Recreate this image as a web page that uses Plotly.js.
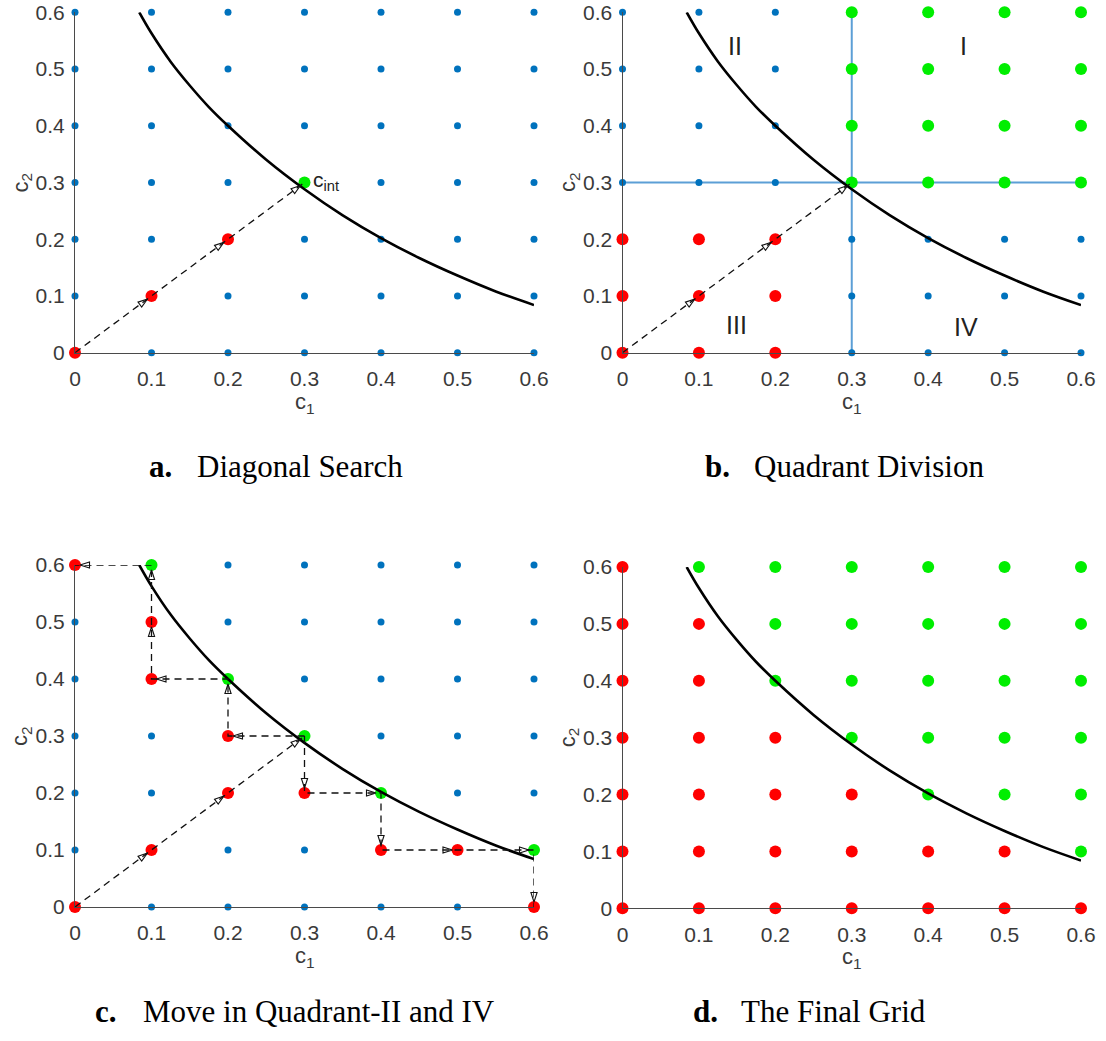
<!DOCTYPE html>
<html><head><meta charset="utf-8">
<script src="https://cdn.plot.ly/plotly-3.0.1.min.js"></script>
<style>html,body{margin:0;padding:0;background:#fff}#chart{width:1106px;height:1041px}</style>
</head><body><div id="chart"></div>
<script>
// ---------- data ----------
const gridVals = [0, 0.1, 0.2, 0.3, 0.4, 0.5, 0.6];
const tickLabels = ['0', '0.1', '0.2', '0.3', '0.4', '0.5', '0.6'];

// boundary curve
const curveX = [0.084, 0.10, 0.125, 0.15, 0.175, 0.20, 0.25, 0.30, 0.35, 0.40, 0.45, 0.50, 0.55, 0.60];
const curveY = [0.600, 0.563, 0.513, 0.471, 0.433, 0.400, 0.340, 0.288, 0.242, 0.202, 0.167, 0.136, 0.108, 0.084];

// search paths (arrows)
const diagPathX = [0, 0.1, 0.2, 0.3];
const diagPathY = [0, 0.1, 0.2, 0.3];
const quadIIPathX = [0.3, 0.2, 0.2, 0.1, 0.1, 0.1, 0];
const quadIIPathY = [0.3, 0.3, 0.4, 0.4, 0.5, 0.6, 0.6];
const quadIVPathX = [0.3, 0.3, 0.4, 0.4, 0.5, 0.6, 0.6];
const quadIVPathY = [0.3, 0.2, 0.2, 0.1, 0.1, 0.1, 0];

// panel a
const aRedX = [0, 0.1, 0.2];
const aRedY = [0, 0.1, 0.2];
const aGreenX = [0.3];
const aGreenY = [0.3];

// panel b
const bRedX = [0, 0.1, 0.2, 0, 0.1, 0.2, 0, 0.1, 0.2];
const bRedY = [0, 0, 0, 0.1, 0.1, 0.1, 0.2, 0.2, 0.2];
const bGreenX = [0.3, 0.4, 0.5, 0.6, 0.3, 0.4, 0.5, 0.6, 0.3, 0.4, 0.5, 0.6, 0.3, 0.4, 0.5, 0.6];
const bGreenY = [0.3, 0.3, 0.3, 0.3, 0.4, 0.4, 0.4, 0.4, 0.5, 0.5, 0.5, 0.5, 0.6, 0.6, 0.6, 0.6];
const bDividerX = 0.3;
const bDividerY = 0.3;
const quadrantNames = ['I', 'II', 'III', 'IV'];
const quadrantLabelX = [0.446, 0.147, 0.149, 0.450];
const quadrantLabelY = [0.540, 0.540, 0.049, 0.046];

// panel c
const cRedX = [0, 0.1, 0.2, 0.2, 0.1, 0.1, 0, 0.3, 0.4, 0.5, 0.6];
const cRedY = [0, 0.1, 0.2, 0.3, 0.4, 0.5, 0.6, 0.2, 0.1, 0.1, 0];
const cGreenX = [0.3, 0.2, 0.1, 0.4, 0.6];
const cGreenY = [0.3, 0.4, 0.6, 0.2, 0.1];

// panel d: highest red c2 in each c1 column (above it: green)
const dColumnX = [0, 0.1, 0.2, 0.3, 0.4, 0.5, 0.6];
const dRedTop  = [0.6, 0.5, 0.3, 0.2, 0.1, 0.1, 0];

const captionsBold = ['a.', 'b.', 'c.', 'd.'];
const captionsText = ['Diagonal Search', 'Quadrant Division', 'Move in Quadrant-II and IV', 'The Final Grid'];

// ---------- helpers ----------
const W = 1106, H = 1041;
const BLUE = '#0072BD', RED = '#ff0000', GREEN = '#00ee00';
const eq = (a, b) => Math.abs(a - b) < 1e-9;

function blueFor(rx, ry, gx, gy) {
  const X = [], Y = [];
  gridVals.forEach(x => gridVals.forEach(y => {
    const inR = rx.some((v, i) => eq(v, x) && eq(ry[i], y));
    const inG = gx.some((v, i) => eq(v, x) && eq(gy[i], y));
    if (!inR && !inG) { X.push(x); Y.push(y); }
  }));
  return [X, Y];
}

// d grid
const dRedX = [], dRedY = [], dGreenX = [], dGreenY = [];
dColumnX.forEach((x, i) => gridVals.forEach(y => {
  if (y <= dRedTop[i] + 1e-9) { dRedX.push(x); dRedY.push(y); }
  else { dGreenX.push(x); dGreenY.push(y); }
}));

const panels = [
  {x0: 75, x1: 534, y0: 12.3, y1: 352.7, red: [aRedX, aRedY], green: [aGreenX, aGreenY], paths: [[diagPathX, diagPathY]]},
  {x0: 622.5, x1: 1081, y0: 12.3, y1: 352.7, red: [bRedX, bRedY], green: [bGreenX, bGreenY], paths: [[diagPathX, diagPathY]], quad: true},
  {x0: 75, x1: 534, y0: 565, y1: 907, red: [cRedX, cRedY], green: [cGreenX, cGreenY], paths: [[diagPathX, diagPathY], [quadIIPathX, quadIIPathY], [quadIVPathX, quadIVPathY]]},
  {x0: 622.5, x1: 1081, y0: 567, y1: 908.3, red: [dRedX, dRedY], green: [dGreenX, dGreenY], paths: []}
];

const SANS = 'Liberation Sans, Arial, sans-serif';
const tickFont = {family: SANS, size: 21, color: '#3a3a3a'};
const layout = {
  width: W, height: H, margin: {l: 0, r: 0, t: 0, b: 0},
  showlegend: false, paper_bgcolor: '#ffffff', plot_bgcolor: 'rgba(0,0,0,0)',
  font: {family: SANS, color: '#3a3a3a'},
  annotations: []
};
const traces = [];

panels.forEach((p, i) => {
  const s = i === 0 ? '' : String(i + 1);
  const xa = 'x' + s, ya = 'y' + s;
  const common = {range: [0, 0.6], tickmode: 'array', tickvals: gridVals, ticktext: tickLabels,
    showline: true, linecolor: '#4a4a4a', linewidth: 1, showgrid: false, zeroline: false,
    ticks: '', tickfont: tickFont, fixedrange: true};
  layout['xaxis' + s] = Object.assign({}, common, {domain: [p.x0 / W, p.x1 / W], anchor: ya, ticklabelstandoff: 7});
  layout['yaxis' + s] = Object.assign({}, common, {domain: [1 - p.y1 / H, 1 - p.y0 / H], anchor: xa, ticklabelstandoff: 5});

  if (p.quad) {
    traces.push({x: [0, 0.6], y: [bDividerY, bDividerY], xaxis: xa, yaxis: ya, mode: 'lines',
      line: {color: '#5c9fd6', width: 2}, cliponaxis: false});
    traces.push({x: [bDividerX, bDividerX], y: [0, 0.6], xaxis: xa, yaxis: ya, mode: 'lines',
      line: {color: '#5c9fd6', width: 2}, cliponaxis: false});
  }
  const [bx, by] = blueFor(p.red[0], p.red[1], p.green[0], p.green[1]);
  traces.push({x: bx, y: by, xaxis: xa, yaxis: ya, mode: 'markers', marker: {color: BLUE, size: 7}, cliponaxis: false});
  traces.push({x: p.red[0], y: p.red[1], xaxis: xa, yaxis: ya, mode: 'markers', marker: {color: RED, size: 12}, cliponaxis: false});
  traces.push({x: p.green[0], y: p.green[1], xaxis: xa, yaxis: ya, mode: 'markers', marker: {color: GREEN, size: 12}, cliponaxis: false});
  traces.push({x: curveX, y: curveY, xaxis: xa, yaxis: ya, mode: 'lines', line: {color: '#000', width: 2.6, shape: 'spline', smoothing: 1}, cliponaxis: false});
  p.paths.forEach(([px_, py_]) => {
    traces.push({x: px_, y: py_, xaxis: xa, yaxis: ya, mode: 'lines+markers',
      line: {color: '#111', width: 1.3, dash: '7px,5px'},
      marker: {symbol: 'arrow-open', size: 10, angleref: 'previous', standoff: 5, color: '#111', line: {width: 1.1, color: '#111'}},
      cliponaxis: false});
  });

  // axis titles
  const cx = (p.x0 + p.x1) / 2;
  layout.annotations.push({xref: 'paper', yref: 'paper', x: cx / W, y: 1 - (p.y1 + 50) / H,
    text: 'c<sub>1</sub>', showarrow: false, xanchor: 'center', yanchor: 'middle',
    font: {family: SANS, size: 22, color: '#3a3a3a'}});
  layout.annotations.push({xref: 'paper', yref: 'paper', x: (p.x0 - 54) / W, y: 1 - ((p.y0 + p.y1) / 2) / H,
    text: 'c<sub>2</sub>', showarrow: false, textangle: -90, xanchor: 'center', yanchor: 'middle',
    font: {family: SANS, size: 22, color: '#3a3a3a'}});
});

// c_int label
layout.annotations.push({xref: 'x', yref: 'y', x: aGreenX[0] + 0.008, y: aGreenY[0] + 0.003, text: 'c<sub>int</sub>',
  showarrow: false, xanchor: 'left', yanchor: 'middle', font: {family: SANS, size: 21, color: '#222'}});

// quadrant labels
quadrantNames.forEach((q, i) => layout.annotations.push({xref: 'x2', yref: 'y2', x: quadrantLabelX[i], y: quadrantLabelY[i],
  text: q, showarrow: false, xanchor: 'center', yanchor: 'middle', font: {family: SANS, size: 25, color: '#222'}}));

// captions
const capPos = [{b: 147, t: 195, y: 466}, {b: 703, t: 752, y: 467}, {b: 93, t: 141, y: 1011}, {b: 691, t: 739, y: 1011}];
capPos.forEach((c, i) => {
  layout.annotations.push({xref: 'paper', yref: 'paper', x: c.b / W, y: 1 - c.y / H, text: '<b>' + captionsBold[i] + '</b>',
    showarrow: false, xanchor: 'left', yanchor: 'middle', font: {family: 'Liberation Serif, Times New Roman, serif', size: 31, color: '#000'}});
  layout.annotations.push({xref: 'paper', yref: 'paper', x: c.t / W, y: 1 - c.y / H, text: captionsText[i],
    showarrow: false, xanchor: 'left', yanchor: 'middle', font: {family: 'Liberation Serif, Times New Roman, serif', size: 31, color: '#000'}});
});

Plotly.newPlot('chart', traces, layout, {staticPlot: true, displayModeBar: false});
</script>
</body></html>
